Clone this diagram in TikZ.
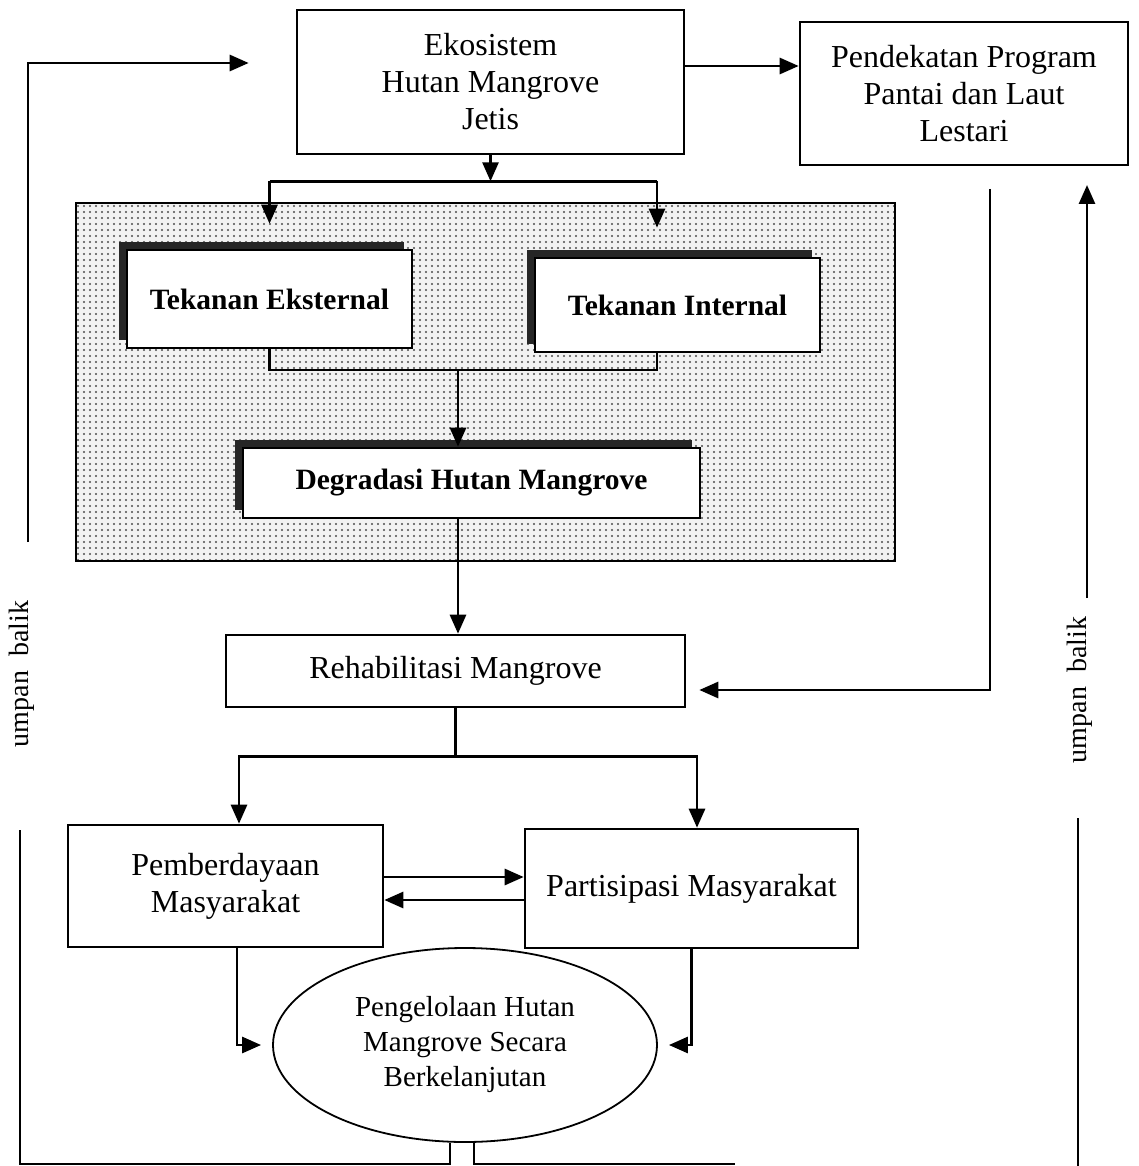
\documentclass[tikz,border=0pt]{standalone}
\usepackage{fontspec}
\setmainfont{Liberation Serif}
\usetikzlibrary{arrows.meta,shapes.geometric,shadows,patterns.meta,positioning}

\newcommand{\txtfs}{\fontsize{32}{37}\selectfont}
\newcommand{\boldfs}{\fontsize{29.5}{34}\selectfont\bfseries}
\newcommand{\ovalfs}{\fontsize{29}{35}\selectfont}

\tikzset{
  conn/.style={line width=2.8pt},
  arr/.style={line width=2.8pt, -{Triangle[length=19pt,width=16pt]}},
  box/.style={draw, line width=2.6pt, fill=white, align=center, inner sep=0pt, font=\txtfs},
  shbox/.style={box, font=\boldfs, general shadow={shadow xshift=-8pt, shadow yshift=8pt, fill=black!85}},
  oval/.style={draw, ellipse, line width=1.8pt, align=center, inner sep=0pt, font=\ovalfs},
  fbtext/.style={rotate=90, font=\fontsize{28}{32}\selectfont}
}

\begin{document}
\begin{tikzpicture}[x=1pt,y=-1pt]
    \useasboundingbox (0,0) rectangle (1139,1166);

    % dotted area
    \fill[black!5, postaction={pattern={Dots[distance=6pt,radius=1.1pt]}, pattern color=black!70}] (76,203) rectangle (895,561);
    \draw[line width=2.6pt] (76,203) rectangle (895,561);

    \node[box, minimum width=387pt, minimum height=144pt] (eko) at (490.5,82) {Ekosistem\\Hutan Mangrove\\Jetis};
    \node[box, minimum width=328pt, minimum height=143pt] (pend) at (964,93.5) {Pendekatan Program\\Pantai dan Laut\\Lestari};
    \node[shbox, minimum width=285pt, minimum height=98pt] (ekst) at (269.5,299) {Tekanan Eksternal};
    \node[shbox, minimum width=285pt, minimum height=94pt] (intr) at (677.5,305) {Tekanan Internal};
    \node[shbox, minimum width=457pt, minimum height=70pt] (degr) at (471.5,483) {Degradasi Hutan Mangrove};
    \node[box, minimum width=459pt, minimum height=72pt] (rehab) at (455.5,671) {Rehabilitasi Mangrove};
    \node[box, minimum width=315pt, minimum height=122pt] (pemb) at (225.5,886) {Pemberdayaan\\Masyarakat};
    \node[box, minimum width=333pt, minimum height=119pt] (part) at (691.5,888.5) {Partisipasi Masyarakat};
    \node[oval, minimum width=384pt, minimum height=194pt] (pengel) at (465,1045) {Pengelolaan Hutan\\Mangrove Secara\\Berkelanjutan};

    \node[fbtext] (umpanL) at (22,674) {umpan~~balik};
    \node[fbtext] (umpanR) at (1080,690) {umpan~~balik};

    \coordinate (ekoR) at ([yshift=16pt]eko.east);
    \coordinate (intrIn) at ([xshift=-20.5pt]intr.north);
    \coordinate (merge) at (458,370);
    \coordinate (pa) at ([yshift=9pt]pemb.east);
    \coordinate (pb) at ([yshift=-14pt]pemb.east);
    \coordinate (fbLtop) at (28,542);
    \coordinate (fbLbot) at (20,830);
    \coordinate (fbRtop) at (1087,598);
    \coordinate (fbRtip) at (1087,185);
    \coordinate (fbRbot) at (1078,818);
    \coordinate (fbRend) at (1078,1166);
    \coordinate (fbRh) at (990,189);

    \draw[arr] (ekoR) -- (ekoR -| pend.west);
    \draw[arr] (eko.south) -- ++(0,26) coordinate (split);
    \draw[conn] (split -| ekst.north) -- (split -| intrIn);
    \draw[arr] (split -| ekst.north) -- ([yshift=25pt]ekst.north);
    \draw[arr] (split -| intrIn) -- ([yshift=29pt]intrIn);
    \draw[conn] (ekst.south) |- (merge) -| (intrIn |- intr.south);
    \draw[arr] (merge) -- (merge |- degr.north);
    \draw[arr] (merge |- degr.south) -- (merge |- rehab.north);
    \draw[conn] (rehab.south) -- ++(0,48) coordinate (split2);
    \draw[arr] (split2) -| ([xshift=13.5pt]pemb.north);
    \draw[arr] (split2) -| ([xshift=5.5pt]part.north);
    \draw[arr] (pa) -- (pa -| part.west);
    \draw[arr] (pb -| part.west) -- (pb);
    \draw[arr] ([xshift=11.5pt]pemb.south) |- ([xshift=-11pt]pengel.west);
    \draw[arr] (part.south) |- ([xshift=11pt]pengel.east);

    % umpan balik
    \draw[conn] ([xshift=-15pt]pengel.south) -- ++(0,21) -| (fbLbot);
    \draw[conn] ([xshift=9pt]pengel.south) -- ++(0,21) -- ++(261,0);
    \draw[conn] (fbRbot) -- (fbRend);
    \draw[arr] (fbLtop) |- ([xshift=-47pt,yshift=19pt]eko.west);
    \draw[arr] (fbRtop) -- (fbRtip);
    \draw[arr] (fbRh) |- ([xshift=13pt,yshift=-19pt]rehab.east);
\end{tikzpicture}
\end{document}
